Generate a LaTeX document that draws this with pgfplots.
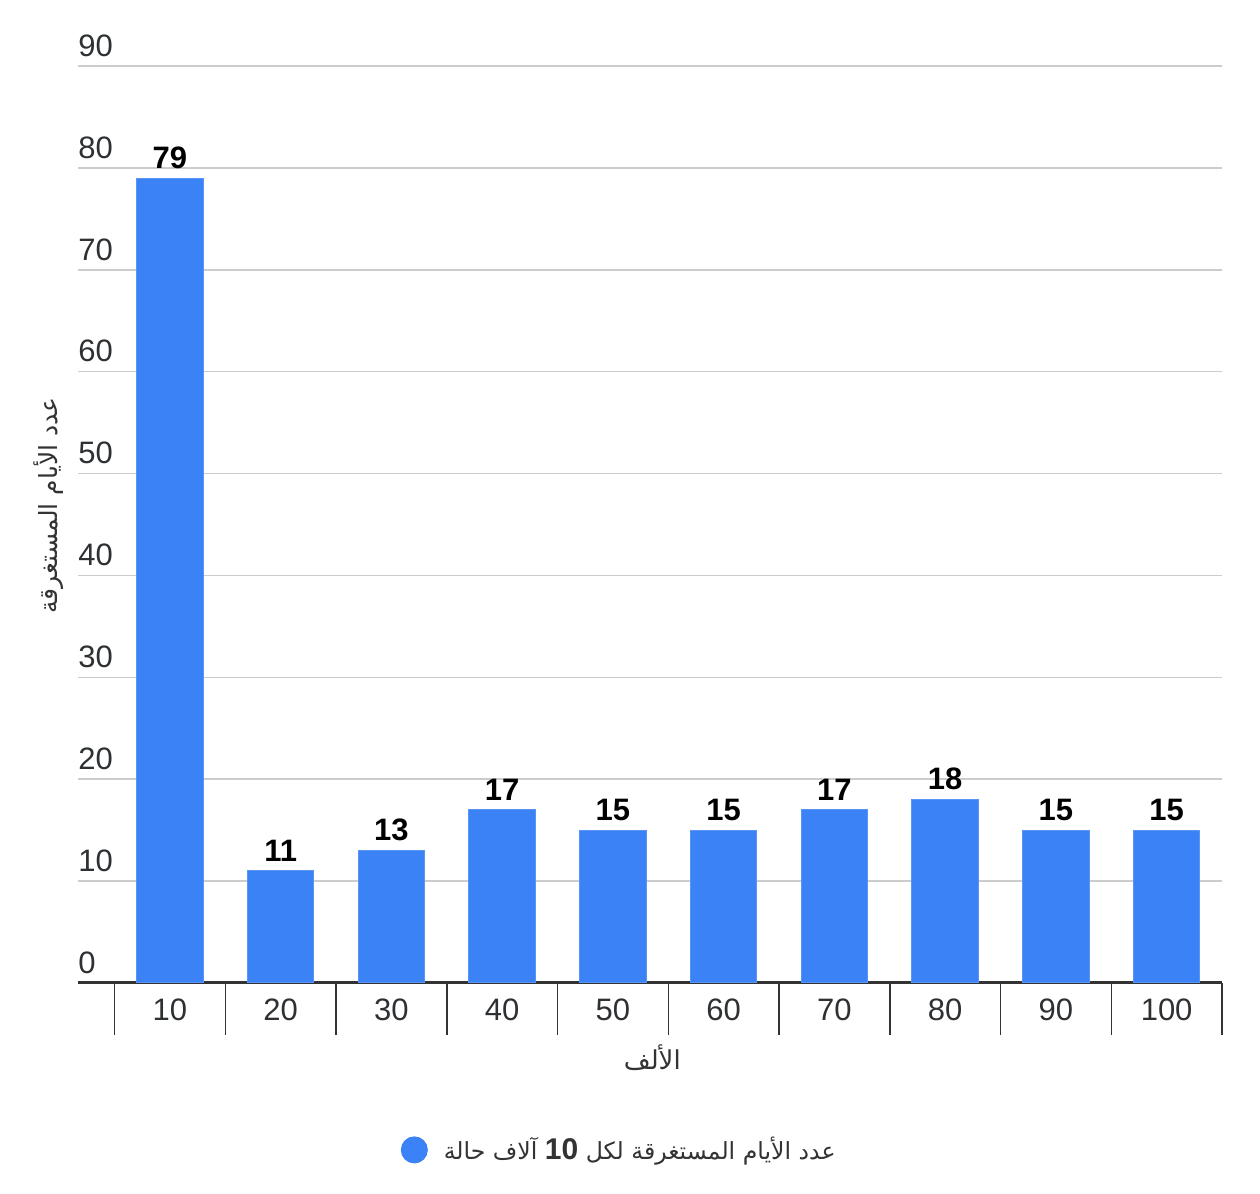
\documentclass[border=0pt]{standalone}
\usepackage{pgfplots}
\pgfplotsset{compat=1.18}
\usepackage{fontspec}
\setmainfont{Liberation Sans}
\newfontfamily\arabicfont[Script=Arabic]{DejaVu Sans}
\TeXXeTstate=1
\definecolor{barblue}{HTML}{3B82F6}
\definecolor{lblgray}{HTML}{2E3133}
\definecolor{gridgray}{HTML}{CCCCCC}
\definecolor{axisgray}{HTML}{333333}
\begin{document}
\begin{tikzpicture}
\useasboundingbox (-39pt,-105.5pt) rectangle (591pt,491.5pt);
\begin{axis}[
  at={(0,0)}, anchor=south west,
  scale only axis, width=572pt, height=458.5pt,
  xmin=-0.83, xmax=9.5, ymin=0, ymax=90,
  ybar, bar width=0.6,
  /pgf/number format/assume math mode=true,
  axis x line=bottom, axis y line=left,
  y axis line style={draw=none},
  x axis line style={line width=1.5pt, draw=axisgray, -},
  xtick={0,1,2,3,4,5,6,7,8,9},
  xticklabels={10,20,30,40,50,60,70,80,90,100},
  major tick length=0pt,
  ytick={0,10,...,90},
  ymajorgrids,
  grid style={line width=0.75pt, draw=gridgray},
  ytick style={draw=none},
  yticklabel style={anchor=south west, inner sep=0pt, yshift=4.5pt, font=\fontsize{15.5}{18}\selectfont, text=lblgray},
  xticklabel style={anchor=north, inner sep=0pt, yshift=-7.5pt, font=\fontsize{15.5}{18}\selectfont, text=lblgray},
  extra x ticks={-0.5,0.5,1.5,2.5,3.5,4.5,5.5,6.5,7.5,8.5,9.5},
  extra x tick labels={},
  extra x tick style={major tick length=26pt, tick align=outside, tick style={line width=0.75pt, draw=axisgray}},
  nodes near coords,
  every node near coord/.append style={font=\bfseries\fontsize{15.5}{18}\selectfont, text=black, inner sep=0pt, yshift=4.5pt},
  xlabel={\arabicfont\beginR الألف\endR},
  every axis x label/.style={at={(rel axis cs:0.502,-0.0818)}, anchor=center, font=\fontsize{13}{16}\selectfont, text=axisgray},
  ylabel={\arabicfont\beginR عدد الأيام المستغرقة\endR},
  every axis y label/.style={at={(rel axis cs:-0.026,0.521)}, rotate=90, anchor=center, font=\fontsize{12.5}{15}\selectfont, text=axisgray},
  legend style={at={(rel axis cs:0.474,-0.182)}, anchor=center, draw=none, font=\fontsize{11.8}{15}\selectfont, text=axisgray,
    /tikz/every odd column/.style={column sep=6pt}},
  legend entries={{\arabicfont\beginR عدد الأيام المستغرقة لكل \beginL{\rmfamily\bfseries\fontsize{15}{15}\selectfont 10}\endL{} آلاف حالة\endR}},
]
\addplot[fill=barblue, draw=barblue!85!white, line width=0.5pt,
  legend image code/.code={\fill[barblue] (0pt,0pt) circle (6.5pt);}]
  coordinates {(0,79) (1,11) (2,13) (3,17) (4,15) (5,15) (6,17) (7,18) (8,15) (9,15)};
\end{axis}
\end{tikzpicture}
\end{document}
